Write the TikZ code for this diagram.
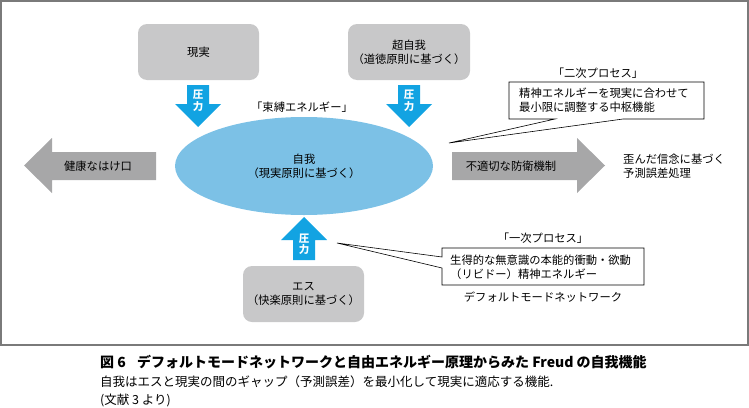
\documentclass[tikz,border=0pt]{standalone}
\usepackage{fontspec}
\setmainfont{Noto Sans CJK JP}
\usetikzlibrary{positioning}
\definecolor{boxgray}{HTML}{C8C8C9}
\definecolor{arrgray}{HTML}{A7A7A8}
\definecolor{pblue}{HTML}{12A3E2}
\definecolor{egoblue}{HTML}{7CC1E6}
\definecolor{framegray}{HTML}{7A7A7A}
\tikzset{
  gbox/.style={fill=boxgray, rounded corners=9pt, draw=none},
  txt/.style={font=\fontsize{11.3}{14}\selectfont, align=center, inner sep=0pt},
  ptxt/.style={font=\fontsize{10.5}{11.5}\selectfont\bfseries, text=white, align=center, inner sep=0pt},
  callout/.style={draw=black, fill=white, line width=0.6pt, line join=miter},
}
\begin{document}
\begin{tikzpicture}[x=1pt,y=-1pt]
\useasboundingbox (0,0) rectangle (749,407);
% frame
\draw[framegray, line width=1.4pt] (1,1) rectangle (748,345);

% top gray boxes
\fill[gbox] (138,24) rectangle (259,80);
\node[txt] (genjitsu) at (198.5,52) {現実};
\fill[gbox] (348,24) rectangle (470,80);
\node[txt] (chojiga) at (409,52) {超自我\\（道徳原則に基づく）};

% bottom gray box
\fill[gbox] (243,266) rectangle (364,322);
\node[txt] (es) at (303.5,294) {エス\\（快楽原則に基づく）};

% ego ellipse
\fill[egoblue] (304,166) ellipse [x radius=129, y radius=49];
\node[txt] (ego) at (304,166) {自我\\（現実原則に基づく）};

% pressure arrows
\fill[pblue] (187,85) -- (209,85) -- (209,104) -- (221,104) -- (198,127) -- (175,104) -- (187,104) -- cycle;
\node[ptxt] (p1) at (198,101) {圧\\力};
\fill[pblue] (398,85) -- (420,85) -- (420,104) -- (432,104) -- (409,127) -- (386,104) -- (398,104) -- cycle;
\node[ptxt] (p2) at (409,101) {圧\\力};
\fill[pblue] (293,260) -- (315,260) -- (315,240) -- (327,240) -- (304,217) -- (281,240) -- (293,240) -- cycle;
\node[ptxt] (p3) at (304,244.5) {圧\\力};

% gray block arrows
\fill[arrgray] (156,152) -- (156,180) -- (52,180) -- (52,193) -- (24,165.5) -- (52,138) -- (52,152) -- cycle;
\node[txt] (kenko) at (98,166) {健康なはけ口};
\fill[arrgray] (452,152) -- (452,180) -- (577,180) -- (577,193) -- (605,165.5) -- (577,138) -- (577,152) -- cycle;
\node[txt] (futekisetsu) at (511,166) {不適切な防衛機制};
\node[txt, align=left, anchor=west] (yugan) at (623,166) {歪んだ信念に基づく\\予測誤差処理};

% labels
\node[txt] (sokubaku) at (302,107) {「束縛エネルギー」};
\node[txt] (niji) at (598,73) {「二次プロセス」};
\node[txt] (ichiji) at (543,238) {「一次プロセス」};
\node[txt] (dmn) at (543,297) {デフォルトモードネットワーク};

% callouts
\coordinate (c1tip) at (449,143);
\draw[callout] (509,82) -- (704,82) -- (704,119) -- (623,119) -- (c1tip) -- (555,119) -- (509,119) -- cycle;
\node[txt, align=left, anchor=west] (niji-t) at (519,100.5) {精神エネルギーを現実に合わせて\\最小限に調整する中枢機能};
\coordinate (c2tip) at (337,243);
\draw[callout] (442,248) -- (644,248) -- (644,285) -- (442,285) -- (442,268) -- (c2tip) -- (442,257) -- cycle;
\node[txt, align=left, anchor=west] (ichiji-t) at (450,267) {生得的な無意識の本能的衝動・欲動\\（リビドー）精神エネルギー};

% caption
\node[anchor=west, inner sep=0pt, font=\fontsize{14}{16}\selectfont\bfseries] (cap1) at (100,362) {図 6\hspace{0.8em}デフォルトモードネットワークと自由エネルギー原理からみた Freud の自我機能};
\node[anchor=west, inner sep=0pt, font=\fontsize{12.5}{15}\selectfont] (cap2) at (100,382) {自我はエスと現実の間のギャップ（予測誤差）を最小化して現実に適応する機能.};
\node[anchor=west, inner sep=0pt, font=\fontsize{12.5}{15}\selectfont] (cap3) at (100,400) {(文献 3 より)};
\end{tikzpicture}
\end{document}
